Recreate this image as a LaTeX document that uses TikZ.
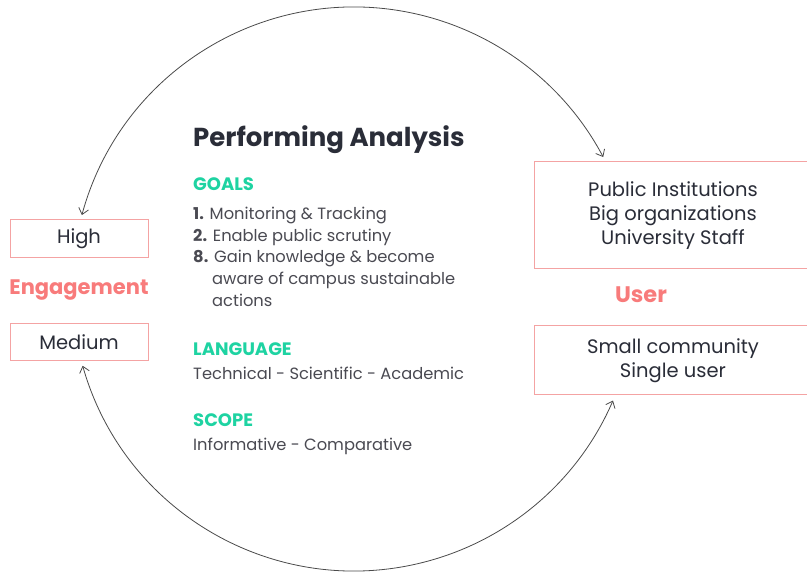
\documentclass[tikz,border=0pt]{standalone}
\usepackage{fontspec}
\setmainfont{Poppins}
\usetikzlibrary{arrows.meta,calc}
\definecolor{boxred}{HTML}{F4A3A3}
\definecolor{salmon}{HTML}{F87B7B}
\definecolor{mint}{HTML}{1ED3A2}
\definecolor{ink}{HTML}{2A2D38}
\definecolor{bodygray}{HTML}{4A4A52}
\definecolor{arcgray}{HTML}{4A4A4A}
\tikzset{
  box/.style={draw=boxred, line width=1pt, inner sep=0pt, font=\fontsize{19.5}{24}\selectfont, text=ink, align=center},
  cat/.style={font=\fontsize{21}{26}\selectfont\bfseries, text=salmon},
  head/.style={anchor=base west, inner sep=0pt, font=\fontsize{18}{20}\selectfont\bfseries, text=mint},
  body/.style={anchor=base west, inner sep=0pt, font=\fontsize{16.3}{20}\selectfont, text=bodygray},
  title/.style={anchor=base west, inner sep=0pt, font=\fontsize{26}{30}\selectfont\bfseries, text=ink},
  cyc/.style={draw=arcgray, line width=0.8pt, {Straight Barb[length=6pt,width=10pt]}-{Straight Barb[length=6pt,width=10pt]}}
}
\begin{document}
\begin{tikzpicture}[x=1pt,y=1pt]
\clip (0,0) rectangle (807,573);
\fill[white] (0,0) rectangle (807,573);
% left column
\node[box, minimum width=138, minimum height=38] (high) at (79,334) {High};
\node[cat] (eng) at (79,283) {Engagement};
\node[box, minimum width=138, minimum height=37] (medium) at (79,230.5) {Medium};
% right column
\node[box, minimum width=278, minimum height=107] (pub) at (673,357.5) {Public Institutions\\Big organizations\\University Staff};
\node[cat, font=\fontsize{22.5}{26}\selectfont\bfseries] (user) at (641,278) {User};
\node[box, minimum width=278, minimum height=69] (small) at (673,212.5) {Small community\\Single user};
% centre text
\node[title] (ttl) at (193,426) {Performing Analysis};
\node[head] (goals) at (193,382) {GOALS};
\node[body] (g1) at (193,353) {\textbf{1.} Monitoring \& Tracking};
\node[body] (g2) at (193,331) {\textbf{2.} Enable public scrutiny};
\node[body] (g3) at (193,310) {\textbf{8.} Gain knowledge \& become};
\node[body] (g4) at (212,288) {aware of campus sustainable};
\node[body] (g5) at (212,266) {actions};
\node[head] (lang) at (193,217) {LANGUAGE};
\node[body] (l1) at (193,193) {Technical - Scientific - Academic};
\node[head] (scope) at (193,146) {SCOPE};
\node[body] (s1) at (193,122) {Informative - Comparative};
% cycle arcs
\coordinate (ctr) at (354,284);
\coordinate (ta) at ($(ctr)+(164.8:282)$);
\coordinate (ba) at ($(ctr)+(195.8:282)$);
\draw[cyc] (ta) arc[start angle=164.8, end angle=27.9, radius=282];
\draw[cyc] (ba) arc[start angle=195.8, end angle=336.7, radius=282];
\end{tikzpicture}
\end{document}
